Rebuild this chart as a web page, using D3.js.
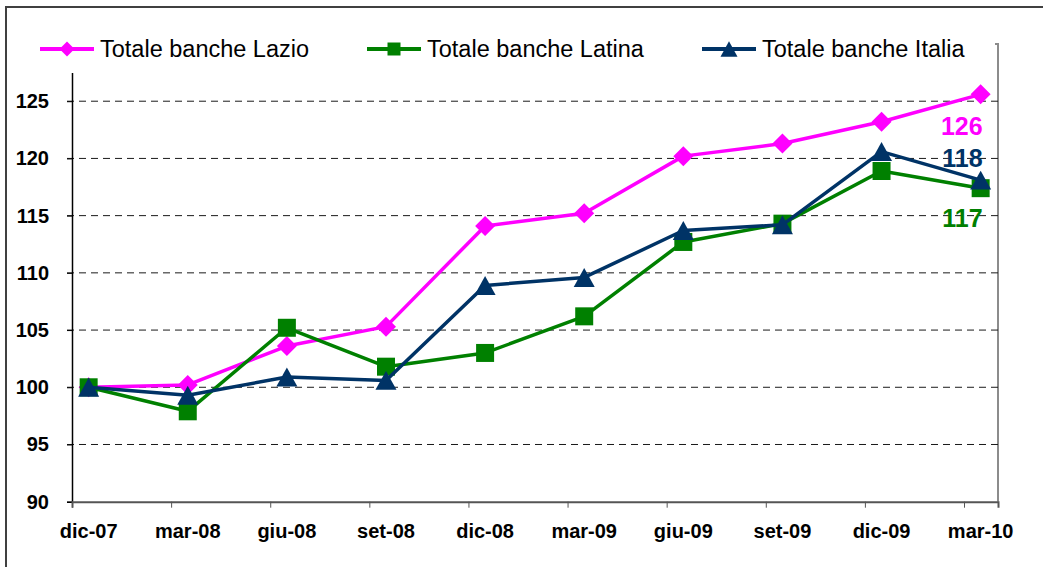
<!DOCTYPE html>
<html>
<head>
<meta charset="utf-8">
<script src="https://cdn.jsdelivr.net/npm/d3@7"></script>
<style>
  body { margin: 0; background: #fff; }
  svg { display: block; font-family: "Liberation Sans", Arial, sans-serif; }
</style>
</head>
<body>
<div id="chart"></div>
<script>
// dati
const months = ["dic-07", "mar-08", "giu-08", "set-08", "dic-08", "mar-09", "giu-09", "set-09", "dic-09", "mar-10"];
const lazio  = [100, 100.2, 103.6, 105.3, 114.1, 115.2, 120.2, 121.3, 123.2, 125.6];
const latina = [100, 97.9, 105.2, 101.8, 103.0, 106.2, 112.7, 114.3, 118.9, 117.4];
const italia = [100, 99.3, 100.9, 100.6, 108.9, 109.6, 113.7, 114.2, 120.6, 118.1];
const seriesNames = ["Totale banche Lazio", "Totale banche Latina", "Totale banche Italia"];
const yTicks = [90, 95, 100, 105, 110, 115, 120, 125];

// stile
const styles = [
  { color: "#FF00FF", marker: "diamond", labelDy: 41 },
  { color: "#008000", marker: "square", labelDy: 39 },
  { color: "#003366", marker: "triangle", labelDy: -13 }
];
const series = [lazio, latina, italia].map((values, i) => ({ name: seriesNames[i], values, ...styles[i] }));

const W = 1043, H = 567;
const margin = { top: 44, right: 45, bottom: 65.3, left: 72 },
      width = W - margin.left - margin.right,
      height = H - margin.top - margin.bottom;

const svg = d3.select("#chart").append("svg")
  .attr("width", W)
  .attr("height", H);

// bordo esterno
svg.append("rect")
  .attr("x", 6).attr("y", 7)
  .attr("width", W + 20).attr("height", H + 20)
  .attr("fill", "#fff")
  .attr("stroke", "#404040")
  .attr("stroke-width", 2);

const g = svg.append("g")
  .attr("transform", `translate(${margin.left},${margin.top})`);

// scale (tick di categoria spostati a sinistra dei punti, come nel grafico Excel)
const tickOff = 0.168;
const x = d3.scaleLinear()
  .domain([-tickOff, months.length - 1 + 0.175])
  .range([0, width]);

const y = d3.scaleLinear()
  .domain([90, 130])
  .range([height, 0]);

// bordo area del grafico
g.append("path")
  .attr("d", `M0,0H${width}V${height}`)
  .attr("fill", "none")
  .attr("stroke", "#8c8c8c")
  .attr("stroke-width", 2);

// griglia
g.selectAll(".grid")
  .data(yTicks.filter(d => d > 90))
  .join("line")
    .attr("class", "grid")
    .attr("x1", -5)
    .attr("x2", width)
    .attr("y1", d => y(d))
    .attr("y2", d => y(d))
    .attr("stroke", "#1a1a1a")
    .attr("stroke-width", 1)
    .attr("stroke-dasharray", "7,5");

// asse y
const yAxis = g.append("g")
  .call(d3.axisLeft(y).tickValues(yTicks).tickSize(5).tickPadding(18));
yAxis.select(".domain").attr("stroke", "#000").attr("stroke-width", 1.5);
yAxis.selectAll(".tick line").attr("stroke", "#000");
yAxis.selectAll("text")
  .style("font-size", "20px")
  .style("font-weight", "bold")
  .attr("fill", "#000");

// asse x
const xAxis = g.append("g")
  .attr("transform", `translate(0,${height})`)
  .call(d3.axisBottom(x).tickValues(months.map((m, i) => i - tickOff)).tickSize(6).tickFormat(""));
xAxis.select(".domain").attr("stroke", "#555").attr("stroke-width", 2);
xAxis.selectAll(".tick line").attr("stroke", "#555");

g.selectAll(".xlabel")
  .data(months)
  .join("text")
    .attr("class", "xlabel")
    .attr("x", (d, i) => x(i))
    .attr("y", height + 36)
    .attr("text-anchor", "middle")
    .style("font-size", "20px")
    .style("font-weight", "bold")
    .text(d => d);

// marker
function markerPath(type, s) {
  const h = s / 2;
  if (type === "diamond") return `M0,${-h}L${h},0L0,${h}L${-h},0Z`;
  if (type === "square") return `M${-h},${-h}H${h}V${h}H${-h}Z`;
  const th = s * 0.9 / 2;
  return `M0,${-th}L${h},${th}L${-h},${th}Z`;
}
const markerSize = { diamond: 20, square: 18, triangle: 21 };

const line = d3.line()
  .x((d, i) => x(i))
  .y(d => y(d));

series.forEach(s => {
  g.append("path")
    .attr("d", line(s.values))
    .attr("fill", "none")
    .attr("stroke", s.color)
    .attr("stroke-width", 3.5)
    .attr("stroke-linejoin", "round");

  g.selectAll(null)
    .data(s.values)
    .join("path")
      .attr("transform", (d, i) => `translate(${x(i)},${y(d)})`)
      .attr("d", markerPath(s.marker, markerSize[s.marker]))
      .attr("fill", s.color);
});

// etichette finali
const last = months.length - 1;
g.selectAll(".endlabel")
  .data(series)
  .join("text")
    .attr("class", "endlabel")
    .attr("x", x(last) + 2)
    .attr("y", d => y(d.values[last]) + d.labelDy)
    .attr("text-anchor", "end")
    .attr("fill", d => d.color)
    .style("font-size", "25px")
    .style("font-weight", "bold")
    .text(d => d3.format(".0f")(d.values[last]));

// legenda
const legendBox = svg.append("rect")
  .attr("x", 30).attr("y", 26)
  .attr("width", 965).attr("height", 47)
  .attr("fill", "#fff");

const legendX = [40, 367, 702];
const legend = svg.selectAll(".legend-item")
  .data(series)
  .join("g")
    .attr("class", "legend-item")
    .attr("transform", (d, i) => `translate(${legendX[i]},49)`);

legend.append("line")
  .attr("x1", 0).attr("x2", 54)
  .attr("stroke", d => d.color)
  .attr("stroke-width", 4);

const legendMarker = { diamond: 15, square: 13, triangle: 17 };
legend.append("path")
  .attr("transform", "translate(27,0)")
  .attr("d", d => markerPath(d.marker, legendMarker[d.marker]))
  .attr("fill", d => d.color);

legend.append("text")
  .attr("x", 60)
  .attr("y", 6)
  .attr("dy", "0.1em")
  .style("font-size", "23.5px")
  .attr("fill", "#000")
  .text(d => d.name);
</script>
</body>
</html>
